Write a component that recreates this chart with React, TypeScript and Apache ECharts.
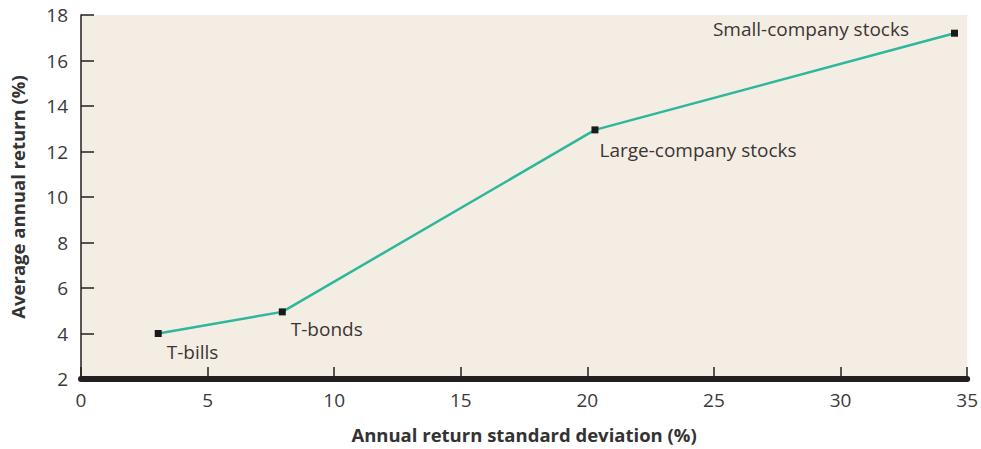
import React, { useEffect, useRef } from "react";
import * as echarts from "echarts";

const names = ["T-bills", "T-bonds", "Large-company stocks", "Small-company stocks"];
const stdDev = [3.05, 7.95, 20.3, 34.5];
const avgReturn = [4.0, 4.95, 12.95, 17.2];
const xTicks = [0, 5, 10, 15, 20, 25, 30, 35];
const yTicks = [2, 4, 6, 8, 10, 12, 14, 16, 18];

const labelCfg = [
  { position: "right", distance: 5, offset: [0, 18] },
  { position: "right", distance: 5, offset: [0, 17] },
  { position: "right", distance: 1, offset: [0, 20] },
  { position: "left", distance: 42, offset: [0, -4] },
];

export default function App() {
  const ref = useRef<HTMLDivElement>(null);
  useEffect(() => {
    if (!ref.current) return;
    const chart = echarts.init(ref.current, undefined, { renderer: "svg" });
    const font = "'Open Sans', 'Noto Sans', sans-serif";
    chart.setOption({
      animation: false,
      grid: {
        left: 76,
        right: 9,
        top: 15,
        bottom: 66,
        show: true,
        backgroundColor: "#f4ede3",
        borderWidth: 0,
      },
      xAxis: {
        type: "value",
        min: xTicks[0],
        max: xTicks[xTicks.length - 1],
        interval: 5,
        name: "Annual return standard deviation (%)",
        nameLocation: "middle",
        nameGap: 46,
        nameTextStyle: { fontFamily: font, fontSize: 18.5, fontWeight: "bold", color: "#333" },
        axisLine: { show: true, lineStyle: { color: "#231f20", width: 6 } },
        axisTick: { show: true, inside: true, length: 12, lineStyle: { color: "#231f20", width: 1.5 } },
        axisLabel: { fontFamily: font, fontSize: 19, color: "#3a3a3a", margin: 11 },
        splitLine: { show: false },
      },
      yAxis: {
        type: "value",
        min: yTicks[0],
        max: yTicks[yTicks.length - 1],
        interval: 2,
        name: "Average annual return (%)",
        nameLocation: "middle",
        nameGap: 54,
        nameTextStyle: { fontFamily: font, fontSize: 18.5, fontWeight: "bold", color: "#333" },
        axisLine: { show: true, lineStyle: { color: "#231f20", width: 1.5 } },
        axisTick: { show: true, inside: true, length: 13, lineStyle: { color: "#231f20", width: 1.5 } },
        axisLabel: { fontFamily: font, fontSize: 19, color: "#3a3a3a", margin: 13 },
        splitLine: { show: false },
      },
      series: [
        {
          type: "line",
          data: stdDev.map((x, i) => ({
            value: [x, avgReturn[i]],
            name: names[i],
            label: {
              show: true,
              formatter: names[i],
              position: labelCfg[i].position,
              distance: labelCfg[i].distance,
              offset: labelCfg[i].offset,
              fontFamily: font,
              fontSize: 19,
              color: "#3d3535",
            },
          })),
          symbol: "rect",
          symbolSize: 7,
          itemStyle: { color: "#1a1a1a" },
          lineStyle: { color: "#2db79b", width: 2.5 },
        },
      ],
    });
    return () => chart.dispose();
  }, []);
  return (
    <div
      ref={ref}
      style={{ position: "absolute", left: 0, top: 0, width: 981, height: 449 }}
    />
  );
}
